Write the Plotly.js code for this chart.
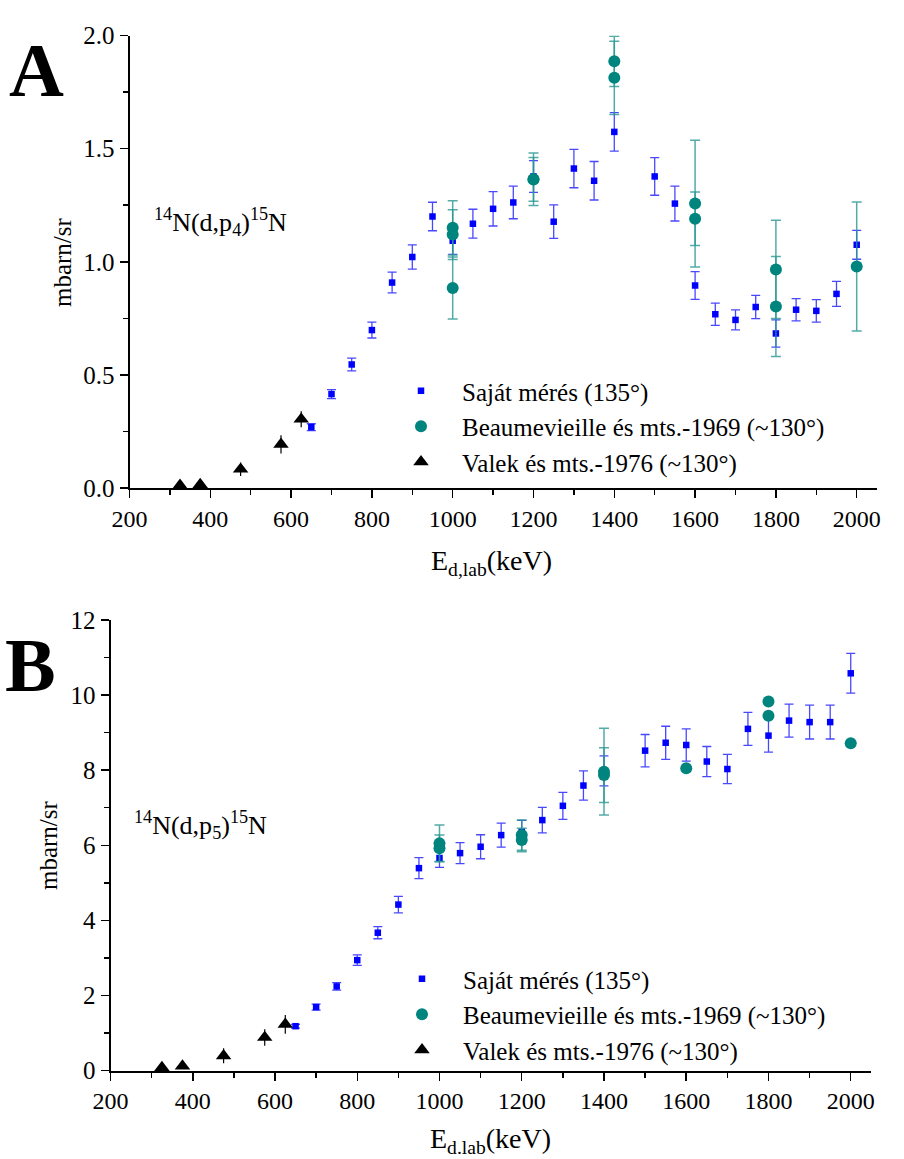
<!DOCTYPE html>
<html>
<head>
<meta charset="utf-8">
<script src="https://cdn.plot.ly/plotly-3.0.1.min.js"></script>
<style>
  html, body { margin: 0; padding: 0; background: #ffffff; }
  #chart { width: 904px; height: 1159px; }
</style>
</head>
<body>
<div id="chart"></div>
<script>
// ---------- Panel A: 14N(d,p4)15N ----------
const A_ownE   = [650, 700, 750, 800, 850, 900, 950, 1000, 1050, 1100, 1150, 1200, 1250, 1300, 1350, 1400,
                  1500, 1550, 1600, 1650, 1700, 1750, 1800, 1850, 1900, 1950, 2000];
const A_own    = [0.269, 0.415, 0.546, 0.698, 0.908, 1.021, 1.200, 1.093, 1.168, 1.234, 1.262, 1.377, 1.177, 1.412, 1.358, 1.574,
                  1.377, 1.257, 0.895, 0.768, 0.743, 0.800, 0.683, 0.788, 0.783, 0.858, 1.075];
const A_ownErr = [0.015, 0.020, 0.028, 0.035, 0.046, 0.054, 0.063, 0.060, 0.064, 0.076, 0.072, 0.070, 0.074, 0.085, 0.085, 0.085,
                  0.083, 0.077, 0.061, 0.049, 0.044, 0.051, 0.060, 0.049, 0.050, 0.055, 0.064];

const A_beaE   = [1000, 1000, 1000, 1200, 1200, 1400, 1400, 1600, 1600, 1800, 1800, 2000];
const A_bea    = [1.150, 1.120, 0.884, 1.365, 1.364, 1.886, 1.813, 1.257, 1.190, 0.966, 0.802, 0.979];
const A_beaErr = [0.120, 0.110, 0.137, 0.116, 0.097, 0.111, 0.162, 0.280, 0.118, 0.217, 0.221, 0.285];

const A_valE   = [325, 375, 475, 575, 625];
const A_val    = [0.012, 0.015, 0.083, 0.193, 0.304];
const A_valErr = [0, 0, 0.030, 0.040, 0.035];

// ---------- Panel B: 14N(d,p5)15N ----------
const B_ownE   = [650, 700, 750, 800, 850, 900, 950, 1000, 1050, 1100, 1150, 1200, 1250, 1300, 1350, 1400,
                  1500, 1550, 1600, 1650, 1700, 1750, 1800, 1850, 1900, 1950, 2000];
const B_own    = [1.18, 1.69, 2.24, 2.94, 3.67, 4.42, 5.39, 5.66, 5.79, 5.96, 6.27, 6.36, 6.67, 7.05, 7.59, 7.98,
                  8.52, 8.73, 8.67, 8.23, 8.03, 9.10, 8.92, 9.32, 9.28, 9.28, 10.58];
const B_ownErr = [0.05, 0.08, 0.10, 0.14, 0.16, 0.22, 0.28, 0.25, 0.28, 0.32, 0.32, 0.30, 0.34, 0.36, 0.39, 0.40,
                  0.43, 0.44, 0.43, 0.40, 0.39, 0.44, 0.44, 0.44, 0.45, 0.45, 0.53];

const B_beaE   = [1000, 1000, 1200, 1200, 1400, 1400, 1600, 1800, 1800, 2000];
const B_bea    = [6.05, 5.92, 6.27, 6.14, 7.96, 7.87, 8.05, 9.83, 9.45, 8.72];
const B_beaErr = [0.49, 0.35, 0.40, 0.31, 1.156, 0.73, 0, 0, 0, 0];

const B_valE   = [325, 375, 475, 575, 625];
const B_val    = [0.08, 0.12, 0.39, 0.88, 1.23];
const B_valErr = [0, 0, 0.20, 0.22, 0.25];

// ---------- labels ----------
const seriesNames = ['Saját mérés (135°)', 'Beaumevieille és mts.-1969 (~130°)', 'Valek és mts.-1976 (~130°)'];
const yTitle = 'mbarn/sr';
const xTitleA = 'E<sub>d,lab</sub>(keV)';
const xTitleB = 'E<sub>d.lab</sub>(keV)';
const reactionA = '<sup>14</sup>N(d,p<sub>4</sub>)<sup>15</sup>N';
const reactionB = '<sup>14</sup>N(d,p<sub>5</sub>)<sup>15</sup>N';

// ---------- styling ----------
const W = 904, H = 1159;
const fx = p => p / W;
const fy = p => 1 - p / H;
const SERIF = 'Liberation Serif';
const BLUE = '#0000ff', BLUE_ERR = 'rgba(40,40,255,0.85)';
const TEAL = '#00847e', TEAL_ERR = 'rgba(40,150,145,0.8)';

function own(x, y, e, xa, ya, lg) {
  return { type: 'scatter', mode: 'markers', x: x, y: y, xaxis: xa, yaxis: ya, legend: lg,
    name: seriesNames[0], showlegend: true, cliponaxis: false,
    marker: { symbol: 'square', size: 6.5, color: BLUE },
    error_y: { type: 'data', array: e, visible: true, color: BLUE_ERR, thickness: 1.3, width: 4.5 } };
}
function bea(x, y, e, xa, ya, lg) {
  return { type: 'scatter', mode: 'markers', x: x, y: y, xaxis: xa, yaxis: ya, legend: lg,
    name: seriesNames[1], showlegend: true, cliponaxis: false,
    marker: { symbol: 'circle', size: 12, color: TEAL },
    error_y: { type: 'data', array: e, visible: true, color: TEAL_ERR, thickness: 1.5, width: 5 } };
}
function val(x, y, e, xa, ya, lg) {
  return { type: 'scatter', mode: 'markers', x: x, y: y, xaxis: xa, yaxis: ya, legend: lg,
    name: seriesNames[2], showlegend: true, cliponaxis: false,
    marker: { symbol: 'triangle-up', size: 13.5, color: '#000000' },
    error_y: { type: 'data', array: e, visible: true, color: '#000000', thickness: 1.2, width: 0 } };
}

const data = [
  own(A_ownE, A_own, A_ownErr, 'x', 'y', 'legend'),
  bea(A_beaE, A_bea, A_beaErr, 'x', 'y', 'legend'),
  val(A_valE, A_val, A_valErr, 'x', 'y', 'legend'),
  own(B_ownE, B_own, B_ownErr, 'x2', 'y2', 'legend2'),
  bea(B_beaE, B_bea, B_beaErr, 'x2', 'y2', 'legend2'),
  val(B_valE, B_val, B_valErr, 'x2', 'y2', 'legend2')
];

function axisBase(size, extra) {
  return Object.assign({
    showline: true, linecolor: '#000', linewidth: 2, mirror: false,
    ticks: 'outside', ticklen: 8, tickwidth: 1.5, tickcolor: '#000',
    showgrid: false, zeroline: false, fixedrange: true,
    tickfont: { family: SERIF, size: size, color: '#000' }
  }, extra);
}
const minorTicks = d => ({ dtick: d, ticks: 'outside', ticklen: 5, tickwidth: 1.5, tickcolor: '#000', showgrid: false });

const legendBase = {
  xanchor: 'left', yanchor: 'top', bgcolor: 'rgba(0,0,0,0)', borderwidth: 0,
  font: { family: SERIF, size: 25, color: '#000' }, itemwidth: 72, tracegroupgap: 0
};

const layout = {
  width: W, height: H,
  margin: { l: 0, r: 0, t: 0, b: 0 },
  paper_bgcolor: '#ffffff', plot_bgcolor: 'rgba(0,0,0,0)',
  font: { family: SERIF, color: '#000' },
  showlegend: true,
  xaxis: axisBase(24, { domain: [fx(129.5), fx(876.9)], range: [200, 2050], dtick: 200, tick0: 0,
                    minor: minorTicks(100), anchor: 'y' }),
  yaxis: axisBase(25, { domain: [fy(488), fy(35.5)], range: [0, 2.0], dtick: 0.5, tick0: 0, tickformat: '.1f',
                    minor: minorTicks(0.25), anchor: 'x' }),
  xaxis2: axisBase(24, { domain: [fx(110.5), fx(871.3)], range: [200, 2050], dtick: 200, tick0: 0,
                    minor: minorTicks(100), anchor: 'y2' }),
  yaxis2: axisBase(25, { domain: [fy(1070.5), fy(620)], range: [0, 12], dtick: 2, tick0: 0,
                    minor: minorTicks(1), anchor: 'x2' }),
  legend: Object.assign({}, legendBase, { x: fx(380), y: fy(368) }),
  legend2: Object.assign({}, legendBase, { x: fx(381), y: fy(956) }),
  annotations: [
    { text: '<b>A</b>', x: fx(36), y: fy(70), xref: 'paper', yref: 'paper', showarrow: false,
      xanchor: 'center', yanchor: 'middle', font: { family: SERIF, size: 76, color: '#000' } },
    { text: '<b>B</b>', x: fx(30), y: fy(665), xref: 'paper', yref: 'paper', showarrow: false,
      xanchor: 'center', yanchor: 'middle', font: { family: SERIF, size: 76, color: '#000' } },
    { text: reactionA, x: fx(152), y: fy(222), xref: 'paper', yref: 'paper', showarrow: false,
      xanchor: 'left', yanchor: 'middle', font: { family: SERIF, size: 26, color: '#000' } },
    { text: reactionB, x: fx(132), y: fy(825), xref: 'paper', yref: 'paper', showarrow: false,
      xanchor: 'left', yanchor: 'middle', font: { family: SERIF, size: 26, color: '#000' } },
    { text: yTitle, x: fx(62), y: fy(262), xref: 'paper', yref: 'paper', showarrow: false, textangle: -90,
      xanchor: 'center', yanchor: 'middle', font: { family: SERIF, size: 25, color: '#000' } },
    { text: yTitle, x: fx(48), y: fy(845), xref: 'paper', yref: 'paper', showarrow: false, textangle: -90,
      xanchor: 'center', yanchor: 'middle', font: { family: SERIF, size: 25, color: '#000' } },
    { text: xTitleA, x: fx(491), y: fy(562), xref: 'paper', yref: 'paper', showarrow: false,
      xanchor: 'center', yanchor: 'middle', font: { family: SERIF, size: 28, color: '#000' } },
    { text: xTitleB, x: fx(490), y: fy(1140), xref: 'paper', yref: 'paper', showarrow: false,
      xanchor: 'center', yanchor: 'middle', font: { family: SERIF, size: 28, color: '#000' } }
  ]
};

Plotly.newPlot('chart', data, layout, { displayModeBar: false, staticPlot: true });
</script>
</body>
</html>
